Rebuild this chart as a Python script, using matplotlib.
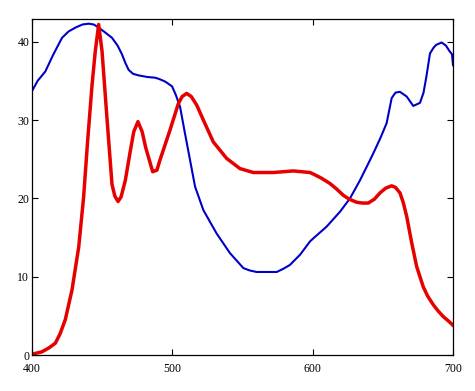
import matplotlib
matplotlib.use("Agg")
import matplotlib.pyplot as plt

# Blue series (wavelength, value)
blue_x = [400, 404, 409.5, 415, 421.4, 426, 430.9, 436, 440.4, 444, 447.5, 452, 457,
          461, 464.1, 466.5, 468.9, 472, 476, 482, 487.9, 491.2, 495, 499.8, 502.5,
          505.5, 509, 512.6, 516.2, 522.1, 531.6, 541.1, 550.6, 555, 560.1, 567, 574.4,
          579, 583.8, 591, 598.1, 600.5, 610, 619.5, 626.6, 633.7, 640.9, 644.4, 648.5,
          652.7, 656.3, 659, 662.2, 667, 671.7, 676.5, 679, 681, 683.6, 686, 688, 691.9,
          695, 697.5, 699.3, 700]
blue_y = [33.7, 35.0, 36.2, 38.3, 40.5, 41.3, 41.8, 42.2, 42.3, 42.2, 41.8, 41.2, 40.5,
          39.5, 38.4, 37.3, 36.4, 35.9, 35.7, 35.5, 35.4, 35.2, 34.9, 34.3, 33.2,
          31.7, 28.3, 24.9, 21.5, 18.5, 15.5, 13.0, 11.1, 10.8, 10.6, 10.6, 10.6,
          11.0, 11.5, 12.8, 14.5, 14.9, 16.4, 18.3, 20.0, 22.3, 24.9, 26.2, 27.8,
          29.6, 32.8, 33.5, 33.6, 33.0, 31.8, 32.2, 33.5, 35.5, 38.5, 39.2, 39.6, 39.9,
          39.5, 38.8, 38.4, 37.0]

# Red series (wavelength, value)
red_x = [400, 407, 412, 416.6, 420, 423.7, 428.5, 433.3, 436.8, 439.5, 442.8, 445.1,
         447.5, 449.9, 453.4, 457, 459, 461.3, 463.5, 466.5, 470, 472.5, 475.5, 478.5,
         481, 486, 489, 491.2, 498.3, 504.3, 507, 510.2, 513.5, 517.4, 522.1, 529.2,
         538.7, 548.2, 557.7, 571.9, 586.2, 598.1, 600.5, 606, 612.3, 617, 621.8, 626,
         631.4, 635.5, 639.6, 644, 648, 652, 656.3, 659, 662.2, 664.5, 667, 670.6, 674.1,
         678.8, 682, 686, 689.5, 693.1, 697, 700]
red_y = [0.1, 0.4, 0.9, 1.5, 2.7, 4.5, 8.3, 13.8, 20.2, 27.0, 34.5, 38.8,
         42.2, 38.8, 30.3, 21.8, 20.3, 19.6, 20.2, 22.3, 26.0, 28.5, 29.8, 28.5,
         26.5, 23.4, 23.6, 24.9, 28.7, 32.1, 33.0, 33.4, 33.0, 31.9, 30.0, 27.2,
         25.1, 23.8, 23.3, 23.3, 23.5, 23.3, 23.1, 22.6, 21.9, 21.2, 20.4, 19.9,
         19.5, 19.4, 19.4, 19.9, 20.7, 21.3, 21.6, 21.4, 20.7, 19.5, 17.7, 14.3, 11.3,
         8.7, 7.5, 6.4, 5.6, 4.9, 4.3, 3.8]

x_ticks = [400, 500, 600, 700]
y_ticks = [0, 10, 20, 30, 40]

fig = plt.figure(figsize=(4.75, 3.91), dpi=100)
ax = fig.add_axes([32/475, 36/391, 421/475, 336/391])
ax.plot(blue_x, blue_y, color="#0000c8", lw=1.5)
ax.plot(red_x, red_y, color="#e60000", lw=2.5)
ax.set_xlim(400, 700)
ax.set_ylim(0, 42.9)
ax.set_xticks(x_ticks)
ax.set_yticks(y_ticks)
ax.tick_params(direction="in", length=4, width=0.8, top=True, right=True,
               labelsize=8.5)
ax.tick_params(axis="x", pad=6)
ax.tick_params(axis="y", pad=2)
for lab in ax.get_xticklabels() + ax.get_yticklabels():
    lab.set_family("Liberation Serif")
for s in ax.spines.values():
    s.set_linewidth(0.9)
fig.savefig("out.png", dpi=100)
